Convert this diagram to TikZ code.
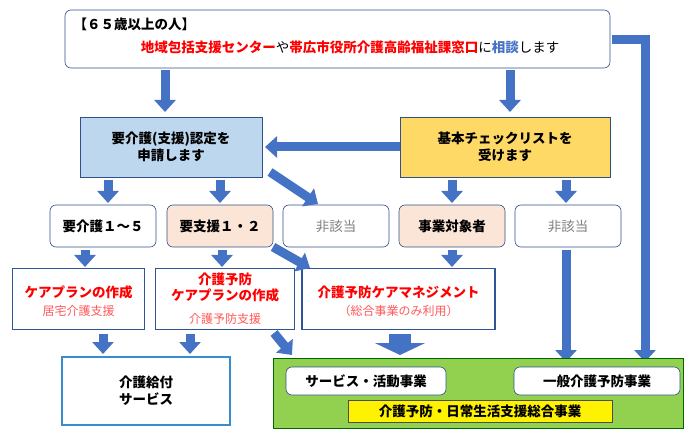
\documentclass[tikz,border=0pt]{standalone}
\usepackage{fontspec}
\setmainfont{Noto Sans CJK JP}
\usetikzlibrary{arrows.meta}
\definecolor{ab}{HTML}{4472C4}
\definecolor{bd}{HTML}{2F5597}
\definecolor{pk}{HTML}{FBE5D6}
\definecolor{lb}{HTML}{BDD7EE}
\definecolor{yo}{HTML}{FFD966}
\definecolor{gr}{HTML}{92D050}
\begin{document}
\begin{tikzpicture}[x=1pt,y=-1pt,
 rb/.style={draw=ab!70!black,rounded corners=6pt,fill=white,line width=0.6pt,inner sep=0},
 sq/.style={draw=bd,line width=1.8pt,fill=white,inner sep=0},
 arr/.style={draw=ab,line width=9pt,-{Triangle[width=21pt,length=12pt]}},
 t/.style={font=\bfseries\fontsize{13.5}{17}\selectfont,align=center},
 sub/.style={font=\fontsize{12}{14}\selectfont,text=red!65},
 rd/.style={text=red}]
\useasboundingbox (0,0) rectangle (690,435);
% top
\node[rb,minimum width=545,minimum height=58] (top) at (337.5,39) {};
\node[t,anchor=west] (t1) at (70,24) {【６５歳以上の人】};
\node[t] (t2) at (350,47) {\textcolor{red}{地域包括支援センター}\textmd{や}\textcolor{red}{帯広市役所介護高齢福祉課窓口}\textmd{に}\textcolor{ab}{相談}\textmd{します}};
\node[rb,rounded corners=0,fill=lb,minimum width=182,minimum height=60] (A) at (171,147) {};
\node[t] at (A) {要介護(支援)認定を\\申請します};
\node[rb,rounded corners=0,fill=yo,minimum width=210,minimum height=60] (B) at (505,147) {};
\node[t] at (B) {基本チェックリストを\\受けます};
\draw[arr] (165,70) -- (165,112);
\draw[arr] (510,70) -- (510,112);
\draw[arr] (B.west) -- ++(-5,0) -- (265,147);
% right line
\coordinate (r1) at (612,40);
\coordinate (r2) at (645,40);
\draw[arr] (r1) -- (r2) -- (645,362);
% row2
\foreach \n/\x/\f/\s in {y/103/white/要介護１～５, s/220/pk/要支援１・２, j/452/pk/事業対象者}
  \node[rb,fill=\f,minimum width=106,minimum height=42,t] (\n) at (\x,226) {\s};
\node[rb,minimum width=106,minimum height=42,font=\fontsize{13.5}{16}\selectfont,text=gray] (h) at (336,226) {非該当};
\node[rb,minimum width=106,minimum height=42,font=\fontsize{13.5}{16}\selectfont,text=gray] (h2) at (568,226) {非該当};
\draw[arr] (108,180) -- (108,203);
\draw[arr] (220,180) -- (220,203);
\draw[arr] (270,172) -- (318,204);
\draw[arr] (452,180) -- (452,203);
\draw[arr] (566,180) -- (566,203);
% row3
\node[sq,minimum width=132,minimum height=61] (c1) at (78.5,299) {};
\node[t,rd] at (78.5,292) {ケアプランの作成};
\node[sub] at (78.5,311) {居宅介護支援};
\node[sq,minimum width=139,minimum height=61] (c2) at (225,299) {};
\node[t,rd,font=\bfseries\fontsize{13.5}{16}\selectfont] at (225,287) {介護予防\\ケアプランの作成};
\node[sub] at (225,319) {介護予防支援};
\node[sq,minimum width=193,minimum height=61] (c3) at (398.5,299) {};
\node[t,rd] at (398.5,292) {介護予防ケアマネジメント};
\node[sub] at (398.5,311) {（総合事業のみ利用）};
\draw[arr] (85,250) -- (85,267);
\draw[arr] (222,250) -- (222,267);
\draw[arr] (273,247) -- (310,268);
\draw[arr] (452,250) -- (452,267);
\draw[arr] (566,250) -- (566,362);
% bottom
\node[draw=ab!80!cyan,line width=1.3pt,fill=white,minimum width=168,minimum height=68,t] (k) at (146,391) {介護給付\\サービス};
\draw[arr] (103,334) -- (103,354);
\draw[arr] (190,334) -- (190,354);
\draw[arr] (274,333) -- (292,355);
\draw[arr,line width=22pt,-{Triangle[width=50pt,length=12pt]}] (400,334) -- (400,355);
\node[draw=green!40!black,line width=1pt,fill=gr,minimum width=410,minimum height=70,inner sep=0] (g) at (478,393) {};
\node[rb,minimum width=160,minimum height=28,t] (s1) at (366,381) {サービス・活動事業};
\node[rb,minimum width=166,minimum height=28,t] (s2) at (597,381) {一般介護予防事業};
\node[draw=black!70,fill=yellow,minimum width=264,minimum height=22,inner sep=0,t] (s3) at (480,411) {介護予防・日常生活支援総合事業};
\end{tikzpicture}
\end{document}
